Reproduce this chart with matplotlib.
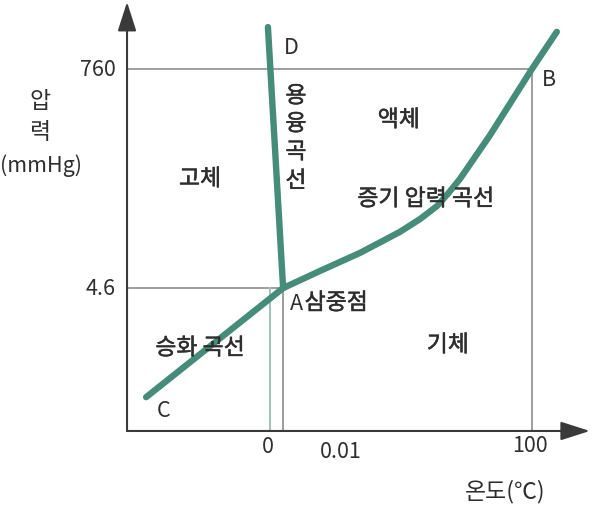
import matplotlib
matplotlib.use("Agg")
import matplotlib.pyplot as plt
import matplotlib.patheffects as pe

plt.rcParams['font.family'] = ['Noto Sans CJK KR', 'DejaVu Sans']

# ---- schematic data (temperature-like x, pressure-like y; diagram is not to scale) ----
triple_point = (5.0, 300.0)          # A  (0.01 ℃, 4.6 mmHg)
melt_T = [-0.8, 5.0]                 # D -> A
melt_P = [848.0, 300.0]
sub_T = [-47.3, 5.0]                 # C -> A
sub_P = [71.0, 300.0]
vap_T = [5.0, 19.1, 34.4, 49.6, 57.3, 63.7, 67.9, 72.5, 84.0, 100.0, 109.5]   # A -> B -> beyond
vap_P = [300.0, 336.0, 374.0, 418.0, 445.0, 472.0, 498.0, 529.0, 621.0, 760.0, 838.0]

p_ticks = [760.0, 300.0]
p_tick_labels = ["760", "4.6"]
t_ticks = [0.0, 5.0, 100.0]
t_tick_labels = ["0", "0.01", "100"]

x_min_axis = -54.6
y_min_axis = 0.0

green = '#468c7a'
grid_gray = '#8e8e8e'
light = '#a5c2ba'
txt = '#2e2e2e'
fs = 15.5      # numbers / latin
fk = 16.5      # korean labels
thick = [pe.withStroke(linewidth=0.35, foreground=txt)]

fig = plt.figure(figsize=(5.94, 5.06), dpi=100)
ax = fig.add_axes([0, 0, 1, 1])
ax.set_xlim(-103.1, 123.7)
ax.set_ylim(-155.4, 906.9)
ax.axis('off')

# reference lines
ax.plot([x_min_axis, t_ticks[2]], [p_ticks[0], p_ticks[0]], color=grid_gray, lw=1.2, zorder=1)
ax.plot([t_ticks[2], t_ticks[2]], [y_min_axis, p_ticks[0]], color=grid_gray, lw=1.2, zorder=1)
ax.plot([x_min_axis, triple_point[0]], [p_ticks[1], p_ticks[1]], color=grid_gray, lw=1.2, zorder=1)
ax.plot([t_ticks[0], t_ticks[0]], [y_min_axis, p_ticks[1]], color=light, lw=1.5, zorder=1)
ax.plot([t_ticks[1], t_ticks[1]], [y_min_axis, p_ticks[1]], color=grid_gray, lw=1.2, zorder=1)

# axes with arrows
arrow_kw = dict(arrowstyle='-|>,head_length=1.0,head_width=0.32', color='#3a3a3a', lw=1.5,
                shrinkA=0, shrinkB=0, mutation_scale=18)
ax.annotate('', xy=(x_min_axis, 900.6), xytext=(x_min_axis, y_min_axis), arrowprops=arrow_kw, zorder=2)
ax.annotate('', xy=(122.1, y_min_axis), xytext=(x_min_axis, y_min_axis), arrowprops=arrow_kw, zorder=2)

# phase boundaries
for T, P in [(melt_T, melt_P), (sub_T, sub_P), (vap_T, vap_P)]:
    ax.plot(T, P, color=green, lw=4.6, solid_capstyle='round', solid_joinstyle='round', zorder=3)

# tick labels
for p, lab in zip(p_ticks, p_tick_labels):
    ax.text(-58.8, p, lab, ha='right', va='center', fontsize=fs, color=txt)
ax.text(-0.8, -31.5, t_tick_labels[0], ha='center', va='center', fontsize=fs, color=txt)
ax.text(27.1, -42.0, t_tick_labels[1], ha='center', va='center', fontsize=fs, color=txt)
ax.text(99.2, -29.4, t_tick_labels[2], ha='center', va='center', fontsize=fs, color=txt)

# axis titles
kw_plain = dict(ha='center', va='center', fontsize=fk, color=txt, zorder=4)
ax.text(89.7, -126.0, "온도(℃)", **kw_plain)
ax.text(-87.8, 692.8, "압", **kw_plain)
ax.text(-87.8, 627.7, "력", **kw_plain)
ax.text(-71.8, 558.4, "(mmHg)", ha='right', va='center', fontsize=fs, color=txt)

# point labels
ax.text(8.0, 806.0, "D", ha='center', va='center', fontsize=fs, color=txt, zorder=4)
ax.text(106.5, 739.0, "B", ha='center', va='center', fontsize=fs, color=txt, zorder=4)
ax.text(-40.8, 44.0, "C", ha='center', va='center', fontsize=fs, color=txt, zorder=4)
ax.text(7.6, 268.7, "A", ha='left', va='center', fontsize=fs, color=txt, zorder=4)
ax.text(13.2, 268.7, "삼중점", ha='left', va='center', fontsize=fk, color=txt, zorder=4,
        path_effects=thick)

# region / curve labels
kw = dict(kw_plain, path_effects=thick)
for ch, y in zip("용융곡선", [703.0, 644.5, 585.7, 524.9]):
    ax.text(9.9, y, ch, **kw)
ax.text(-26.7, 529.0, "고체", **kw)
ax.text(49.2, 653.0, "액체", **kw)
ax.text(59.5, 487.0, "증기 압력 곡선", **kw)
ax.text(-26.7, 174.0, "승화 곡선", **kw)
ax.text(67.9, 180.5, "기체", **kw)

fig.savefig("out.png", dpi=100)
